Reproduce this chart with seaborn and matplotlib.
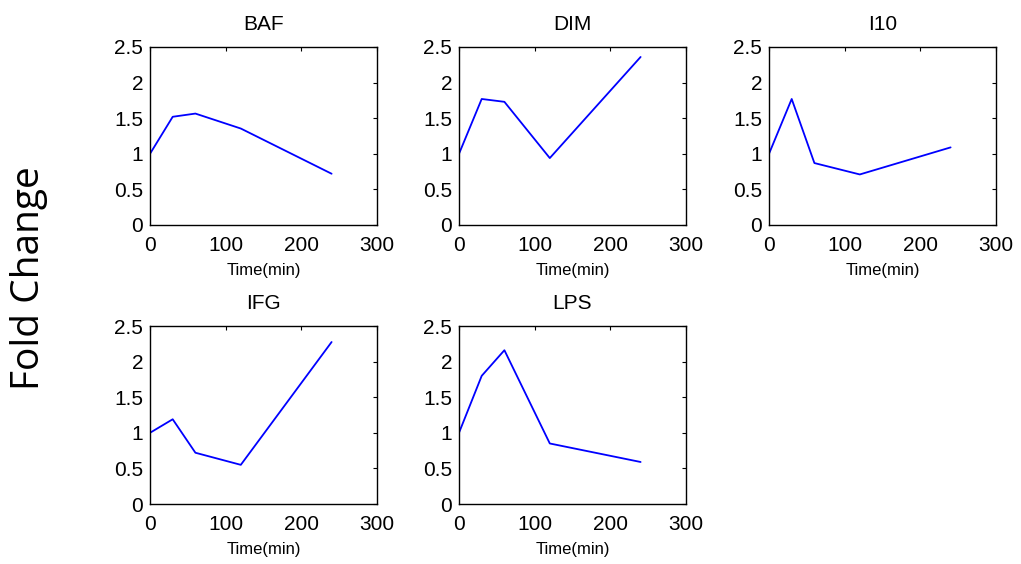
import pandas as pd
import matplotlib.pyplot as plt
import seaborn as sns

time_min = [0, 30, 60, 120, 240]
baf = [1.0, 1.52, 1.565, 1.355, 0.72]
dim = [1.0, 1.77, 1.73, 0.94, 2.36]
i10 = [1.0, 1.77, 0.87, 0.71, 1.09]
ifg = [1.0, 1.19, 0.72, 0.55, 2.275]
lps = [1.0, 1.80, 2.16, 0.85, 0.59]

panels = ['BAF', 'DIM', 'I10', 'IFG', 'LPS']
titles = ['BAF', 'DIM', 'I10', 'IFG', 'LPS']
series = [baf, dim, i10, ifg, lps]

sns.set_style('white')
plt.rcParams['font.family'] = ['Liberation Sans', 'DejaVu Sans']
plt.rcParams['text.color'] = 'black'
plt.rcParams['axes.labelcolor'] = 'black'
plt.rcParams['xtick.color'] = 'black'
plt.rcParams['ytick.color'] = 'black'


def main():
    frames = []
    for name, vals in zip(panels, series):
        frames.append(pd.DataFrame({'Time': time_min, 'Fold': vals, 'Panel': name}))
    data = pd.concat(frames, ignore_index=True)

    fig = plt.figure(figsize=(10.21, 5.64), dpi=100)
    W, H = 1021, 564
    # axes boxes in pixels: left, top
    lefts = [150, 459, 769]
    tops = [47, 326]
    width = 227
    height = 178

    for i, name in enumerate(panels):
        row, col = divmod(i, 3)
        l = lefts[col]
        t = tops[row]
        ax = fig.add_axes([l / W, 1 - (t + height) / H, width / W, height / H])
        sub = data[data['Panel'] == name]
        sns.lineplot(data=sub, x='Time', y='Fold', ax=ax, color='#0000ff',
                     linewidth=1.3, estimator=None)
        ax.set_xlim(0, 300)
        ax.set_ylim(0, 2.5)
        ax.set_xticks([0, 100, 200, 300])
        ax.set_yticks([0, 0.5, 1, 1.5, 2, 2.5])
        ax.set_xticklabels(['0', '100', '200', '300'])
        ax.set_yticklabels(['0', '0.5', '1', '1.5', '2', '2.5'])
        ax.tick_params(direction='in', length=3, width=0.8, top=True, right=True,
                       labelsize=15, colors='black')
        ax.tick_params(axis='x', pad=8)
        ax.tick_params(axis='y', pad=5)
        for sp in ax.spines.values():
            sp.set_visible(True)
            sp.set_color('black')
            sp.set_linewidth(1.0)
        ax.set_title(titles[i], fontsize=15, pad=12)
        ax.set_xlabel('Time(min)', fontsize=12, labelpad=6)
        ax.set_ylabel('')

    fig.text(29 / W, 1 - 278 / H, 'Fold Change', rotation=90, fontsize=28,
             family=['Open Sans', 'DejaVu Sans'], ha='center', va='center')

    fig.savefig('out.png', dpi=100)


if __name__ == '__main__':
    main()
